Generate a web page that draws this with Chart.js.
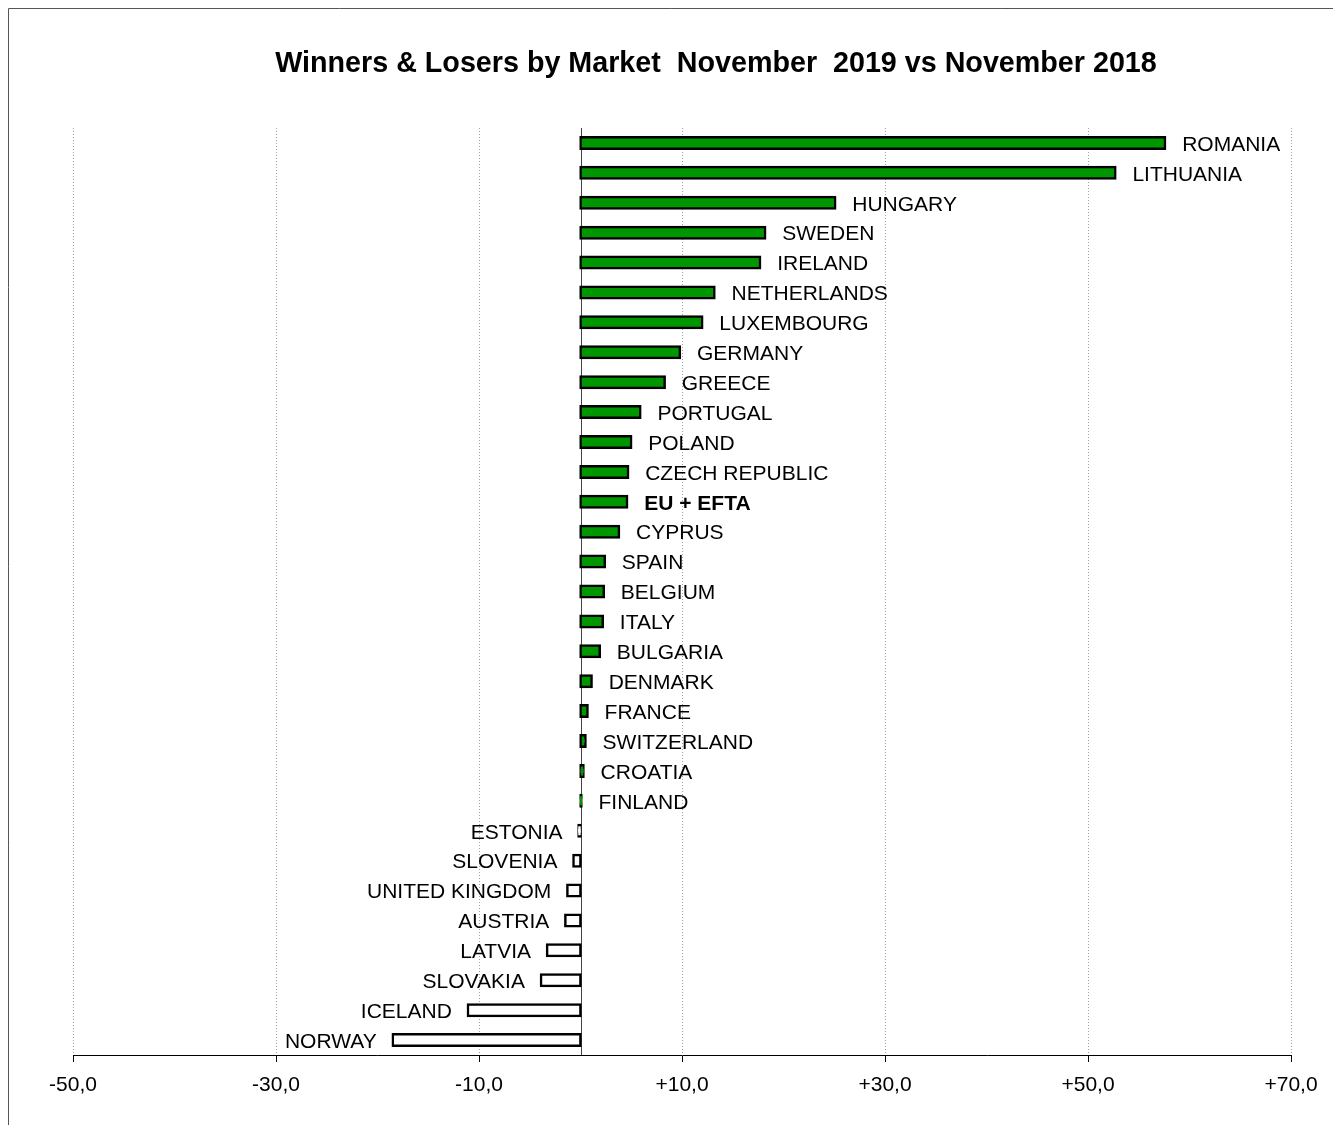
<!DOCTYPE html>
<html>
<head>
<meta charset="utf-8">
<script src="https://cdn.jsdelivr.net/npm/chart.js@4/dist/chart.umd.min.js"></script>
<style>
  body { margin: 0; background: #fff; }
  canvas { display: block; }
</style>
</head>
<body>
<canvas id="grafico" width="1333" height="1125"></canvas>
<script>
// =======================
// DATA
// =======================

const TITLE =
    "Winners & Losers by Market  November  2019 vs November 2018";

const countries = [
    "ROMANIA", "LITHUANIA", "HUNGARY", "SWEDEN", "IRELAND",
    "NETHERLANDS", "LUXEMBOURG", "GERMANY", "GREECE", "PORTUGAL",
    "POLAND", "CZECH REPUBLIC", "EU + EFTA", "CYPRUS", "SPAIN",
    "BELGIUM", "ITALY", "BULGARIA", "DENMARK", "FRANCE",
    "SWITZERLAND", "CROATIA", "FINLAND", "ESTONIA", "SLOVENIA",
    "UNITED KINGDOM", "AUSTRIA", "LATVIA", "SLOVAKIA", "ICELAND",
    "NORWAY"
];

// % change
const changes = [
    57.6, 52.7, 25.1, 18.2, 17.7,
    13.2, 12.0, 9.8, 8.3, 5.9,
    5.0, 4.7, 4.6, 3.8, 2.4,
    2.3, 2.2, 1.9, 1.1, 0.7,
    0.5, 0.3, 0.1, -0.2, -0.7,
    -1.3, -1.5, -3.3, -3.9, -11.1,
    -18.5
];

const tickMin = -50;
const tickMax = 70;
const tickStep = 20;

// =======================
// PLUGIN: frame, title, zero line, labels
// =======================

const FONT = "'Liberation Sans', Arial, sans-serif";

const extras = {
    id: "extras",

    beforeDraw(chart) {
        const c = chart.ctx;
        c.save();
        c.strokeStyle = "#555";
        c.lineWidth = 1;
        c.beginPath();
        c.moveTo(8.5, chart.height);
        c.lineTo(8.5, 8.5);
        c.lineTo(chart.width, 8.5);
        c.stroke();

        c.fillStyle = "#000";
        c.font = "bold 28.7px " + FONT;
        c.textAlign = "center";
        c.textBaseline = "middle";
        c.fillText(TITLE, 716, 64);
        c.restore();
    },

    beforeDatasetsDraw(chart) {
        const c = chart.ctx;
        const x0 = Math.round(chart.scales.x.getPixelForValue(0)) + 0.5;
        c.save();
        c.strokeStyle = "#444";
        c.lineWidth = 1;
        c.beginPath();
        c.moveTo(x0, chart.chartArea.top);
        c.lineTo(x0, chart.chartArea.bottom);
        c.stroke();
        c.restore();
    },

    afterDatasetsDraw(chart) {
        const c = chart.ctx;
        const meta = chart.getDatasetMeta(0);
        c.save();
        c.fillStyle = "#000";
        c.textBaseline = "middle";
        meta.data.forEach((bar, i) => {
            const v = changes[i];
            const bold = countries[i] === "EU + EFTA";
            c.font = (bold ? "bold " : "") + "21px " + FONT;
            if (v >= 0) {
                c.textAlign = "left";
                c.fillText(countries[i], bar.x + 17, bar.y + 2);
            } else {
                c.textAlign = "right";
                c.fillText(countries[i], bar.x - 16, bar.y + 2);
            }
        });
        c.restore();
    }
};

// =======================
// CHART
// =======================

const grafico = new Chart(document.getElementById("grafico"), {
    type: "bar",
    data: {
        labels: countries,
        datasets: [{
            data: changes,
            backgroundColor: changes.map(v => v >= 0 ? "#009600" : "#ffffff"),
            borderColor: "#000",
            borderWidth: 2.5,
            borderSkipped: false,
            inflateAmount: 1.2,
            barThickness: 11.6
        }]
    },
    options: {
        indexAxis: "y",
        responsive: false,
        animation: false,
        devicePixelRatio: 1,
        layout: {
            padding: { left: 73, right: 42, top: 128, bottom: 0 }
        },
        plugins: {
            legend: { display: false },
            title: { display: false },
            tooltip: { enabled: false }
        },
        scales: {
            x: {
                type: "linear",
                min: tickMin,
                max: tickMax,
                afterFit(scale) {
                    scale.height = 70;
                },
                ticks: {
                    stepSize: tickStep,
                    color: "#000",
                    padding: 11,
                    font: { family: FONT, size: 21 },
                    callback: v => (v > 0 ? "+" : "") + v.toFixed(1).replace(".", ",")
                },
                grid: {
                    color: "#a0a0a0",
                    lineWidth: 1,
                    tickColor: "#000",
                    tickLength: 7,
                    tickWidth: 1
                },
                border: {
                    display: true,
                    color: "#000",
                    width: 1,
                    dash: [1, 2]
                }
            },
            y: {
                display: false
            }
        }
    },
    plugins: [extras]
});
</script>
</body>
</html>
